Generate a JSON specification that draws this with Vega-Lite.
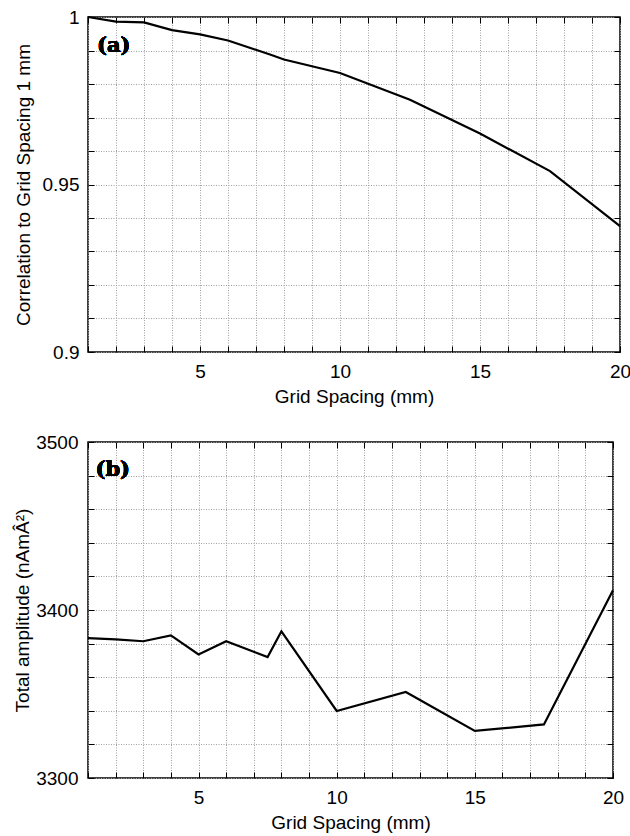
{
  "$schema": "https://vega.github.io/schema/vega-lite/v6.json",
  "padding": {"left": 12, "top": 7, "right": 5, "bottom": 5},
  "background": "white",
  "spacing": 25,
  "config": {
    "font": "Liberation Sans",
    "view": {"stroke": "black", "strokeWidth": 1.5},
    "axis": {
      "labelFontSize": 19,
      "titleFontSize": 19,
      "titleFontWeight": "normal",
      "labelColor": "black",
      "titleColor": "black",
      "tickColor": "black",
      "tickWidth": 1,
      "tickSize": -6,
      "domain": false,
      "labelFlush": false,
      "labelOverlap": false,
      "gridColor": "#a0a0a0",
      "gridDash": [1, 1.5],
      "gridWidth": 1
    }
  },
  "datasets": {
    "corr": [
      {"spacing": 1, "corr": 1.0},
      {"spacing": 2, "corr": 0.9986},
      {"spacing": 3, "corr": 0.9984},
      {"spacing": 4, "corr": 0.9961},
      {"spacing": 5, "corr": 0.9948},
      {"spacing": 6, "corr": 0.993},
      {"spacing": 7.5, "corr": 0.9888},
      {"spacing": 8, "corr": 0.9873},
      {"spacing": 10, "corr": 0.9833},
      {"spacing": 12.5, "corr": 0.9753},
      {"spacing": 15, "corr": 0.9652},
      {"spacing": 17.5, "corr": 0.954},
      {"spacing": 20, "corr": 0.9376}
    ],
    "amp": [
      {"spacing": 1, "amp": 3383.3},
      {"spacing": 2, "amp": 3382.5},
      {"spacing": 3, "amp": 3381.4},
      {"spacing": 4, "amp": 3384.9},
      {"spacing": 5, "amp": 3373.5},
      {"spacing": 6, "amp": 3381.4},
      {"spacing": 7.5, "amp": 3372.0},
      {"spacing": 8, "amp": 3387.3},
      {"spacing": 10, "amp": 3339.9},
      {"spacing": 12.5, "amp": 3351.2},
      {"spacing": 15, "amp": 3328.0},
      {"spacing": 17.5, "amp": 3331.9},
      {"spacing": 20, "amp": 3411.7}
    ]
  },
  "vconcat": [
    {
      "width": 532,
      "height": 335,
      "data": {"name": "corr"},
      "layer": [
        {
          "mark": {"type": "line", "color": "black", "strokeWidth": 2.2},
          "encoding": {
            "x": {
              "field": "spacing", "type": "quantitative",
              "scale": {"domain": [1, 20], "nice": false, "zero": false},
              "axis": {
                "orient": "bottom", "title": "Grid Spacing (mm)",
                "values": [1,2,3,4,5,6,7,8,9,10,11,12,13,14,15,16,17,18,19,20],
                "labelExpr": "datum.value % 5 == 0 ? datum.value : ''",
                "labelPadding": 16, "titlePadding": 6, "grid": true
              }
            },
            "y": {
              "field": "corr", "type": "quantitative",
              "scale": {"domain": [0.9, 1], "nice": false, "zero": false},
              "axis": {
                "orient": "left", "title": "Correlation to Grid Spacing 1 mm",
                "values": [0.9, 0.91, 0.92, 0.93, 0.94, 0.95, 0.96, 0.97, 0.98, 0.99, 1.0],
                "labelExpr": "abs(datum.value - 0.9) < 1e-6 ? '0.9' : abs(datum.value - 0.95) < 1e-6 ? '0.95' : abs(datum.value - 1) < 1e-6 ? '1' : ''",
                "labelPadding": 15, "titlePadding": 9, "grid": true
              }
            }
          }
        },
        {
          "mark": {"type": "line", "opacity": 0},
          "encoding": {
            "x": {
              "field": "spacing", "type": "quantitative",
              "axis": {
                "orient": "top", "title": null, "labels": false, "grid": false,
                "values": [1,2,3,4,5,6,7,8,9,10,11,12,13,14,15,16,17,18,19,20]
              }
            },
            "y": {
              "field": "corr", "type": "quantitative",
              "axis": {
                "orient": "right", "title": null, "labels": false, "grid": false,
                "values": [0.9, 0.91, 0.92, 0.93, 0.94, 0.95, 0.96, 0.97, 0.98, 0.99, 1.0]
              }
            }
          }
        },
        {
          "mark": {"type": "text", "font": "DejaVu Serif", "fontWeight": "bold", "fontSize": 21, "align": "left", "baseline": "middle", "fill": "black"},
          "encoding": {
            "x": {"datum": 1.32, "type": "quantitative", "axis": null},
            "y": {"datum": 0.9913, "type": "quantitative", "axis": null},
            "text": {"value": "(a)"}
          }
        }
      ],
      "resolve": {"axis": {"x": "independent", "y": "independent"}}
    },
    {
      "width": 525,
      "height": 336,
      "data": {"name": "amp"},
      "layer": [
        {
          "mark": {"type": "line", "color": "black", "strokeWidth": 2.2},
          "encoding": {
            "x": {
              "field": "spacing", "type": "quantitative",
              "scale": {"domain": [1, 20], "nice": false, "zero": false},
              "axis": {
                "orient": "bottom", "title": "Grid Spacing (mm)",
                "values": [1,2,3,4,5,6,7,8,9,10,11,12,13,14,15,16,17,18,19,20],
                "labelExpr": "datum.value % 5 == 0 ? datum.value : ''",
                "labelPadding": 16, "titlePadding": 6, "grid": true
              }
            },
            "y": {
              "field": "amp", "type": "quantitative",
              "scale": {"domain": [3300, 3500], "nice": false, "zero": false},
              "axis": {
                "orient": "left", "title": "Total amplitude (nAmÂ²)",
                "values": [3300, 3320, 3340, 3360, 3380, 3400, 3420, 3440, 3460, 3480, 3500],
                "labelExpr": "datum.value % 100 == 0 ? datum.value : ''",
                "labelPadding": 16, "titlePadding": 3, "grid": true
              }
            }
          }
        },
        {
          "mark": {"type": "line", "opacity": 0},
          "encoding": {
            "x": {
              "field": "spacing", "type": "quantitative",
              "axis": {
                "orient": "top", "title": null, "labels": false, "grid": false,
                "values": [1,2,3,4,5,6,7,8,9,10,11,12,13,14,15,16,17,18,19,20]
              }
            },
            "y": {
              "field": "amp", "type": "quantitative",
              "axis": {
                "orient": "right", "title": null, "labels": false, "grid": false,
                "values": [3300, 3320, 3340, 3360, 3380, 3400, 3420, 3440, 3460, 3480, 3500]
              }
            }
          }
        },
        {
          "mark": {"type": "text", "font": "DejaVu Serif", "fontWeight": "bold", "fontSize": 21, "align": "left", "baseline": "middle", "fill": "black"},
          "encoding": {
            "x": {"datum": 1.27, "type": "quantitative", "axis": null},
            "y": {"datum": 3483.5, "type": "quantitative", "axis": null},
            "text": {"value": "(b)"}
          }
        }
      ],
      "resolve": {"axis": {"x": "independent", "y": "independent"}}
    }
  ]
}
